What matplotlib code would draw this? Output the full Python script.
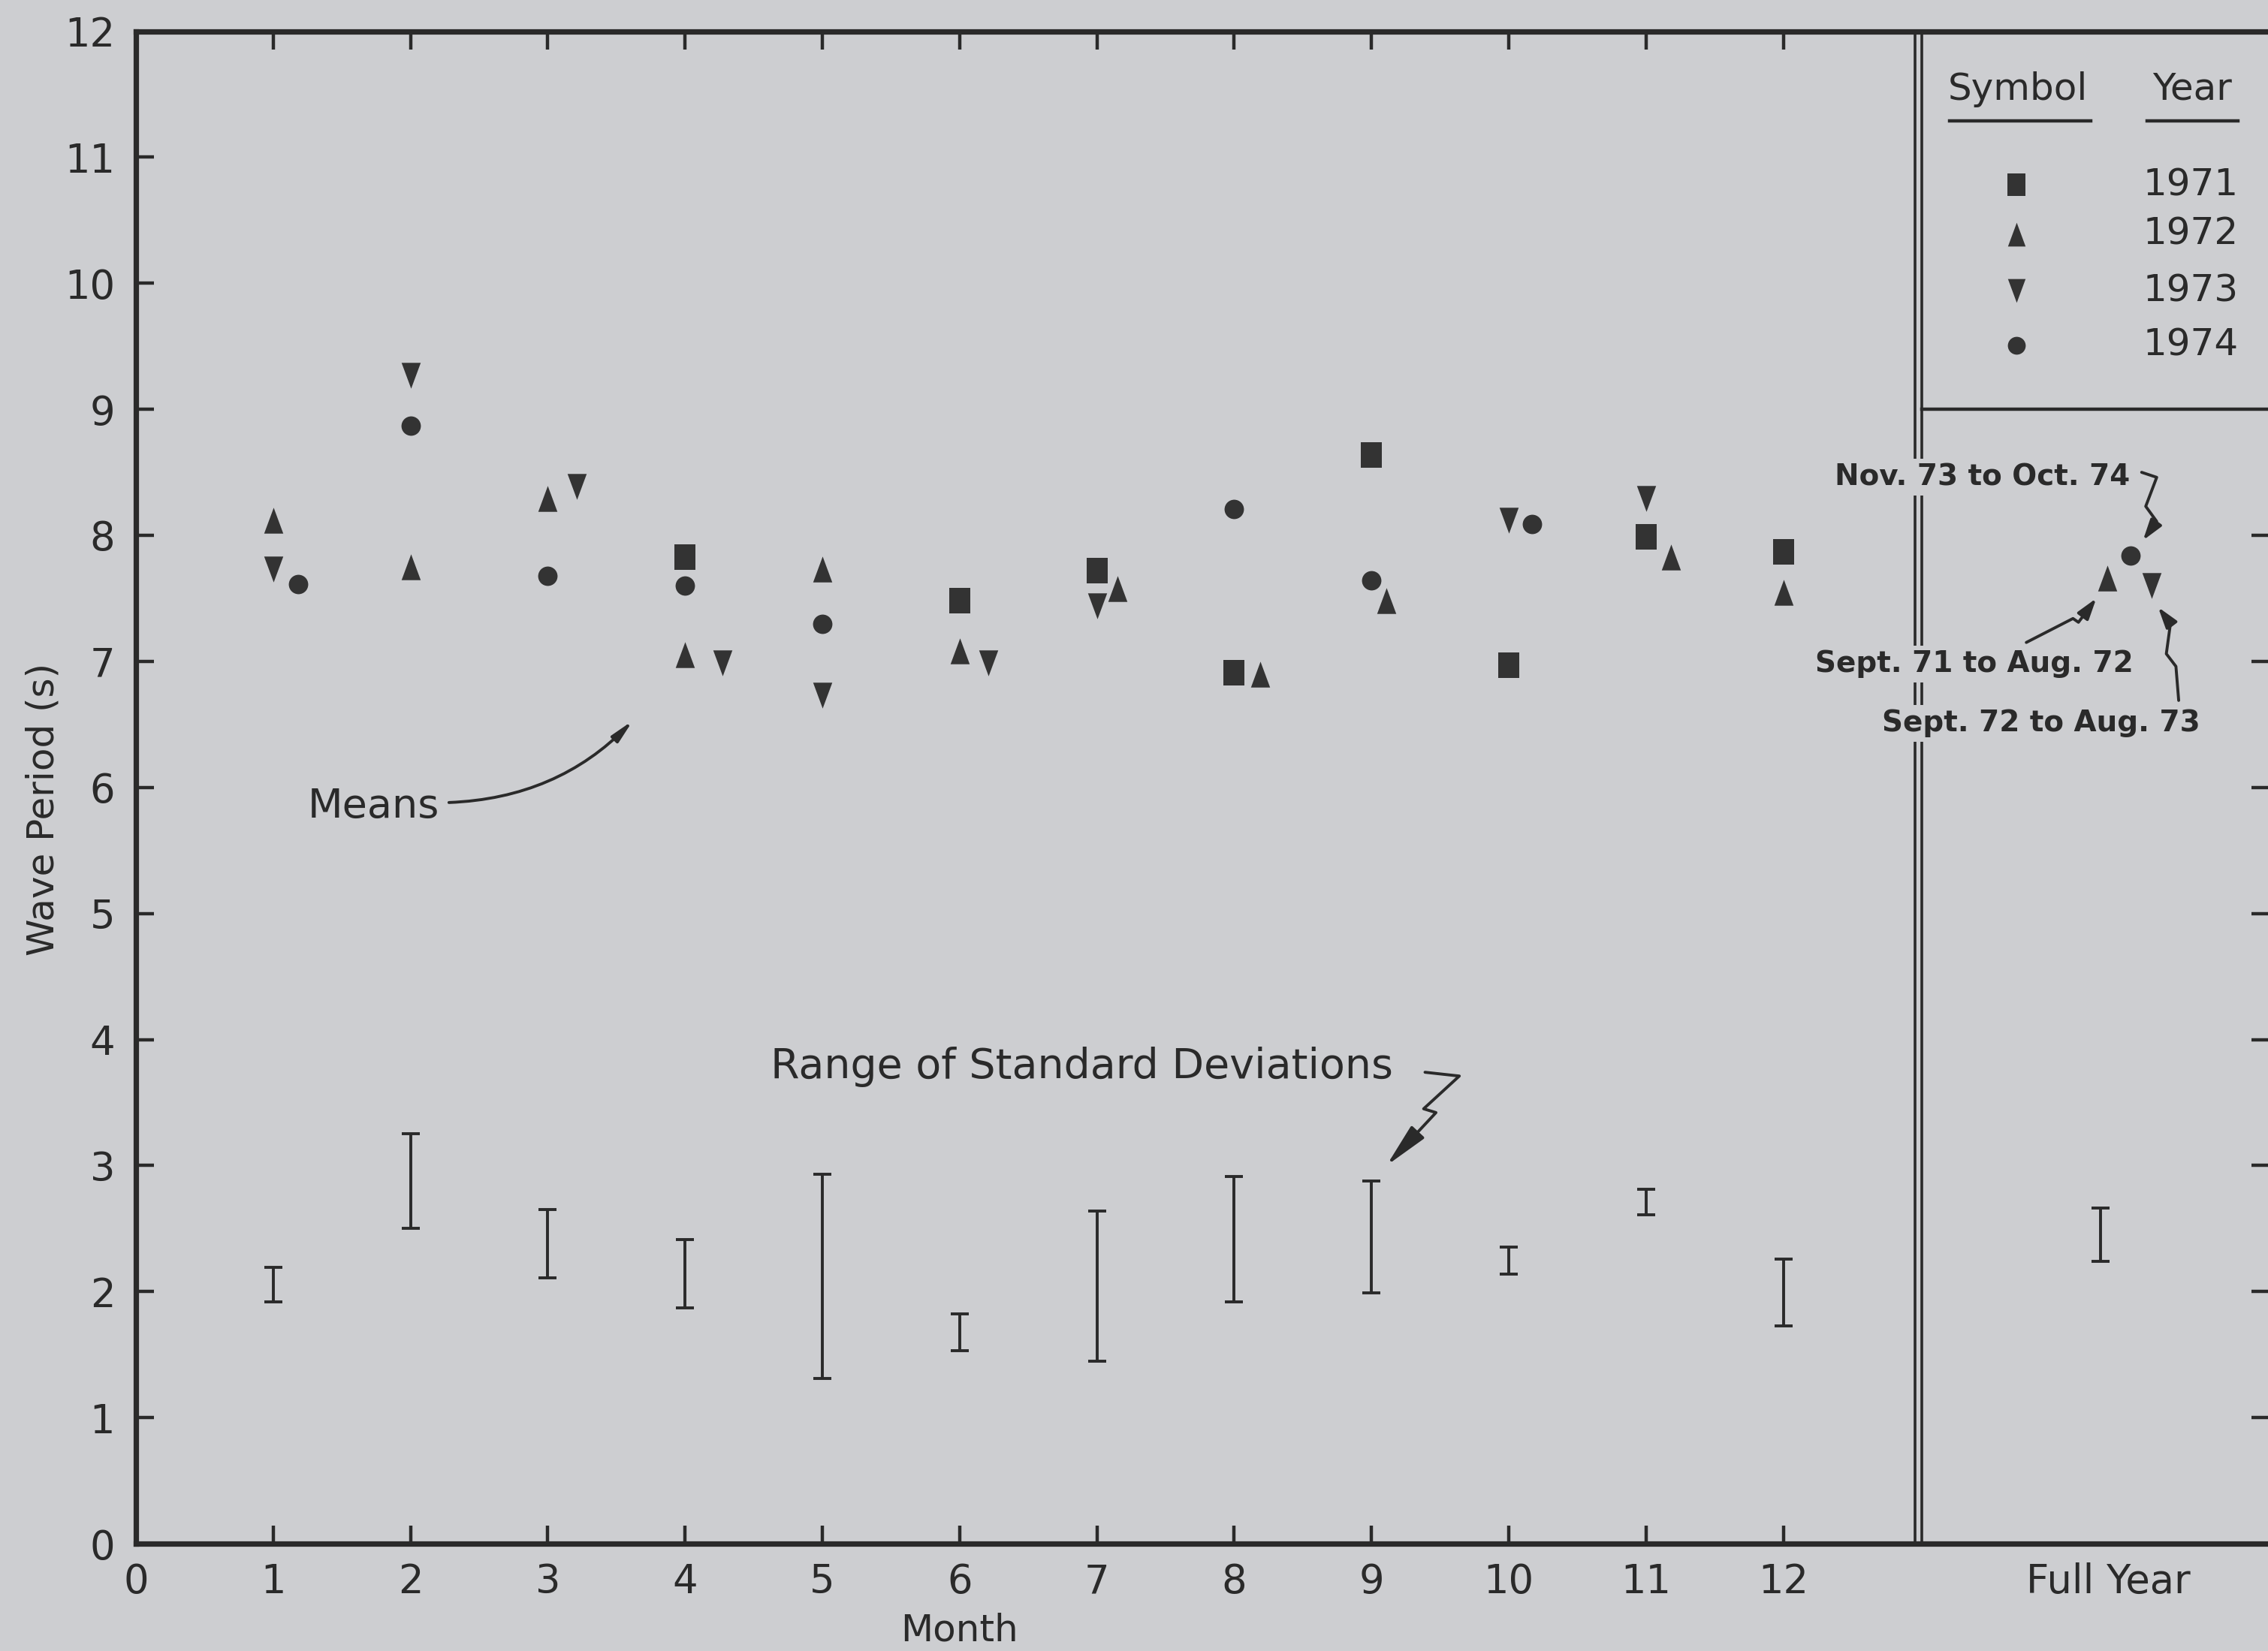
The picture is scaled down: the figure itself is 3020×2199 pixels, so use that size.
import numpy as np
import matplotlib
matplotlib.use("Agg")
import matplotlib.pyplot as plt
from matplotlib.path import Path
from matplotlib.patches import FancyArrowPatch

# ---------------- data ----------------
nan = np.nan
months = list(range(1, 13))
month_labels = [str(m) for m in range(0, 13)]
years = ["1971", "1972", "1973", "1974"]

# monthly mean wave period (s)
mean_1971 = [nan, nan, nan, 7.83, nan, 7.48, 7.72, 6.91, 8.64, 6.97, 7.99, 7.87]
mean_1972 = [8.12, 7.75, 8.29, 7.05, 7.73, 7.08, 7.58, 6.90, 7.48, nan, 7.83, 7.55]
mean_1973 = [7.73, 9.27, 8.39, 6.99, 6.73, 6.99, 7.44, nan, nan, 8.12, 8.29, nan]
mean_1974 = [7.61, 8.87, 7.68, 7.60, 7.30, nan, nan, 8.21, 7.64, 8.09, nan, nan]

# horizontal side-by-side shift of overlapping symbols (in months)
dodge_1971 = [0, 0, 0, 0, 0, 0, 0, 0, 0, 0, 0, 0]
dodge_1972 = [0, 0, 0, 0, 0, 0, 0.15, 0.19, 0.11, 0, 0.18, 0]
dodge_1973 = [0, 0, 0.21, 0.27, 0, 0.21, 0, 0, 0, 0, 0, 0]
dodge_1974 = [0.18, 0, 0, 0, 0, 0, 0, 0, 0, 0.17, 0, 0]

# range of monthly standard deviations (s)
std_low = [1.92, 2.50, 2.11, 1.87, 1.31, 1.53, 1.45, 1.92, 1.99, 2.14, 2.61, 1.73]
std_high = [2.19, 3.25, 2.65, 2.41, 2.93, 1.82, 2.64, 2.91, 2.88, 2.35, 2.81, 2.26]

# full-year values
full_labels = ["Sept. 71 to Aug. 72", "Sept. 72 to Aug. 73", "Nov. 73 to Oct. 74"]
full_means = [7.66, 7.60, 7.84]          # 1972 (▲), 1973 (▼), 1974 (●)
full_x = [14.36, 14.68, 14.53]
full_std_low = [2.24]
full_std_high = [2.66]
full_std_x = [14.31]

# ---------------- style ----------------
BG = "#cdced1"
INK = "#2a2a2a"
MK = "#333333"
FONT = "DejaVu Sans"
plt.rcParams["font.family"] = FONT

SQ = [(-0.41, -0.5), (0.41, -0.5), (0.41, 0.5), (-0.41, 0.5), (-0.41, -0.5)]
UP = [(-0.37, -0.5), (0.37, -0.5), (0.0, 0.5), (-0.37, -0.5)]
DN = [(-0.37, 0.5), (0.37, 0.5), (0.0, -0.5), (-0.37, 0.5)]
series = [
    (mean_1971, dodge_1971, SQ, 11.9),
    (mean_1972, dodge_1972, UP, 12.4),
    (mean_1973, dodge_1973, DN, 12.4),
    (mean_1974, dodge_1974, "o", 9.3),
]

W, H = 3020, 2199
fig = plt.figure(figsize=(W / 200, H / 200), dpi=200, facecolor=BG)
x0_px, step_px = 181, 182.8
ax = fig.add_axes([x0_px / W, (H - 2056) / H, (W + 2 - x0_px) / W, (2056 - 41.5) / H])
ax.set_facecolor(BG)
ax.set_xlim(0, (W + 2 - x0_px) / step_px)
ax.set_ylim(0, 12)

# spines / ticks
for s in ["left", "bottom", "top"]:
    ax.spines[s].set_linewidth(2.6)
    ax.spines[s].set_color(INK)
ax.spines["right"].set_visible(False)
ax.set_xticks(range(0, 13))
ax.set_xticklabels(month_labels)
ax.set_yticks(range(0, 13))
ax.set_yticklabels([str(v) for v in range(0, 13)])
ax.tick_params(axis="x", direction="in", top=True, bottom=True, length=8.5, width=1.6,
               color=INK, labelsize=19, labelcolor=INK, pad=9)
ax.tick_params(axis="y", direction="in", left=True, right=False, length=8.5, width=1.6,
               color=INK, labelsize=19, labelcolor=INK, pad=10)

ax2 = ax.twinx()
ax2.set_ylim(0, 12)
ax2.set_yticks(range(1, 9))
ax2.tick_params(axis="y", direction="in", right=True, length=8.5, width=1.6, color=INK,
                labelright=False)
for s in ax2.spines.values():
    s.set_visible(False)
ax2.patch.set_visible(False)

# monthly means
for vals, dodge, mk, ms in series:
    xs = np.array(months, dtype=float) + np.array(dodge)
    ax.plot(xs, vals, linestyle="none", marker=mk, ms=ms, color=MK, mec=MK, mew=0, zorder=4)

# std ranges
lo = np.array(std_low)
hi = np.array(std_high)
ax.errorbar(months, (lo + hi) / 2, yerr=(hi - lo) / 2, fmt="none", ecolor=INK,
            elinewidth=1.4, capsize=4.4, capthick=1.4, zorder=3)
flo = np.array(full_std_low)
fhi = np.array(full_std_high)
ax.errorbar(full_std_x, (flo + fhi) / 2, yerr=(fhi - flo) / 2, fmt="none", ecolor=INK,
            elinewidth=1.4, capsize=4.4, capthick=1.4, zorder=3)

# full year means
for xv, yv, mk, ms in zip(full_x, full_means, [UP, DN, "o"], [12.4, 12.4, 9.3]):
    ax.plot([xv], [yv], linestyle="none", marker=mk, ms=ms, color=MK, mew=0, zorder=4)

# divider (double line) and legend box
ax.axvline(12.96, color=INK, lw=1.3, zorder=2)
ax.axvline(13.01, color=INK, lw=1.3, zorder=2)
ax.plot([13.01, ax.get_xlim()[1]], [9.0, 9.0], color=INK, lw=1.6, zorder=2)

ax.text(13.71, 11.54, "Symbol", ha="center", va="center", fontsize=18, color=INK)
ax.text(14.98, 11.54, "Year", ha="center", va="center", fontsize=18, color=INK)
ax.plot([13.21, 14.24], [11.29, 11.29], color=INK, lw=1.6)
ax.plot([14.65, 15.31], [11.29, 11.29], color=INK, lw=1.6)
leg_rows = [10.78, 10.39, 9.94, 9.51]
for (vals, dodge, mk, ms), yr, ry in zip(series, years, leg_rows):
    ax.plot([13.70], [ry], linestyle="none", marker=mk, ms=ms * 0.92, color=MK, mew=0)
    ax.text(14.62, ry, yr, ha="left", va="center", fontsize=18, color=INK)

# annotations
ax.text(1.73, 5.85, "Means", ha="center", va="center", fontsize=19.5, color=INK)
ax.annotate("", xy=(3.62, 6.53), xytext=(2.28, 5.88),
            arrowprops=dict(arrowstyle="-|>,head_length=0.9,head_width=0.18", color=INK,
                            lw=1.4, connectionstyle="arc3,rad=0.2", shrinkA=0, shrinkB=0))

ax.text(6.89, 3.78, "Range of Standard Deviations", ha="center", va="center",
        fontsize=20, color=INK)


def squiggle(pts, scale=20, hl=0.9, hw=0.18):
    codes = [Path.MOVETO] + [Path.LINETO] * (len(pts) - 1)
    p = FancyArrowPatch(path=Path(pts, codes),
                        arrowstyle=f"-|>,head_length={hl},head_width={hw}",
                        color=INK, lw=1.4, mutation_scale=scale, zorder=5)
    ax.add_patch(p)


squiggle([(9.39, 3.74), (9.64, 3.71), (9.38, 3.45), (9.47, 3.42), (9.11, 3.00)])

box = dict(facecolor=BG, edgecolor="none", pad=2)
ax.text(13.45, 8.46, full_labels[2], ha="center", va="center", fontsize=14,
        fontweight="bold", color=INK, bbox=box, zorder=6)
ax.text(13.39, 6.98, full_labels[0], ha="center", va="center", fontsize=14,
        fontweight="bold", color=INK, bbox=box, zorder=6)
ax.text(13.88, 6.51, full_labels[1], ha="center", va="center", fontsize=14,
        fontweight="bold", color=INK, bbox=box, zorder=6)
squiggle([(14.61, 8.50), (14.72, 8.46), (14.64, 8.23), (14.72, 8.11), (14.62, 7.96)],
         scale=12, hl=0.7, hw=0.22)
squiggle([(13.77, 7.15), (14.11, 7.34), (14.15, 7.31), (14.28, 7.50)],
         scale=12, hl=0.7, hw=0.22)
squiggle([(14.88, 6.69), (14.86, 6.96), (14.79, 7.06), (14.82, 7.30), (14.73, 7.43)],
         scale=12, hl=0.7, hw=0.22)

ax.annotate("Full Year", xy=(14.37, 0), xycoords="data", xytext=(0, -9),
            textcoords="offset points", ha="center", va="top", fontsize=19, color=INK)

fig.text(58 / W, 1 - 1078 / H, "Wave Period (s)", rotation=90, ha="center", va="center",
         fontsize=18, color=INK)
fig.text(1277 / W, 1 - 2172 / H, "Month", ha="center", va="center", fontsize=18, color=INK)

fig.savefig("out.png", dpi=200, facecolor=BG)
